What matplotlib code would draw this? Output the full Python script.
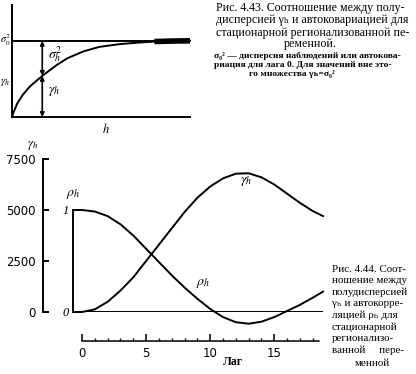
import numpy as np
import matplotlib
matplotlib.use("Agg")
import matplotlib.pyplot as plt
from matplotlib.ticker import FixedLocator, MultipleLocator

plt.rcParams["font.family"] = ["Liberation Serif", "DejaVu Serif"]
plt.rcParams["mathtext.fontset"] = "stix"

# --- data: fig 4.43 (variogram approaching the sill) ---
h_top = [0, 0.01, 0.03, 0.06, 0.1, 0.17, 0.25, 0.31, 0.4, 0.49, 0.6, 0.7, 0.8, 0.9, 1.0]
gamma_top = [0, 0.07, 0.18, 0.29, 0.40, 0.54, 0.68, 0.77, 0.86, 0.92, 0.955, 0.975, 0.99, 0.997, 1.0]
sill = 1.0
h_mark = 0.17

# --- data: fig 4.44 (semivariance and autocorrelation vs lag) ---
lag = [0, 1, 2, 3, 4, 5, 6, 7, 8, 9, 10, 11, 12, 13, 14, 15, 16, 17, 18, 18.8]
gamma = [0, 130, 500, 1050, 1700, 2500, 3300, 4100, 4900, 5600, 6150, 6550,
         6780, 6800, 6600, 6250, 5800, 5350, 4950, 4700]
rho = [1.0, 0.985, 0.94, 0.86, 0.75, 0.62, 0.49, 0.36, 0.24, 0.13, 0.03, -0.05,
       -0.10, -0.115, -0.095, -0.05, 0.01, 0.07, 0.14, 0.20]
gamma_ticks = [0, 2500, 5000, 7500]
rho_ticks = [0, 1]
lag_ticks = [0, 5, 10, 15]

W, H = 416, 374
PT = 0.72  # points per pixel at dpi 100


def fx(x):
    return x / W


def fy(y):
    return 1 - y / H


fig = plt.figure(figsize=(W / 100, H / 100), dpi=100)
lw = 1.4

# ---------------- top chart ----------------
ax_t = fig.add_axes([fx(12), fy(117), 178 / W, (117 - 5) / H])
ax_t.set_xlim(0, 1)
ax_t.set_ylim(0, 1.47)
for s in ["top", "right"]:
    ax_t.spines[s].set_visible(False)
ax_t.spines["left"].set_linewidth(lw)
ax_t.spines["bottom"].set_linewidth(lw)
ax_t.set_xticks([])
ax_t.set_yticks([])
ax_t.patch.set_alpha(0)
ax_t.plot(h_top, gamma_top, color="black", lw=lw, clip_on=False)
tail = [i for i, v in enumerate(h_top) if v >= 0.78]
ax_t.plot([h_top[i] for i in tail], [gamma_top[i] for i in tail], color="black", lw=4, solid_capstyle="butt")
ax_t.axhline(sill, color="black", lw=lw)
g_mark = np.interp(h_mark, h_top, gamma_top)
arrow = dict(arrowstyle="<|-|>", color="black", lw=1.2, mutation_scale=6, shrinkA=0, shrinkB=0)
ax_t.annotate("", xy=(h_mark, sill), xytext=(h_mark, g_mark), arrowprops=arrow)
ax_t.annotate("", xy=(h_mark, g_mark), xytext=(h_mark, 0), arrowprops=arrow)
ax_t.text(h_mark + 0.035, 0.82, r"$\sigma_h^2$", fontsize=10, va="center")
ax_t.text(h_mark + 0.035, 0.32, r"$\gamma_h$", fontsize=10, va="center")
ax_t.text(0.53, -0.06, r"$h$", fontsize=9, va="top", ha="center")
fig.text(fx(0), fy(40), r"$\sigma_0^2$", fontsize=7.5, ha="left", va="center")
fig.text(fx(0), fy(82), r"$\gamma_h$", fontsize=8, ha="left", va="center")

# ---------------- bottom chart ----------------
rect = [fx(82), fy(312), (323 - 82) / W, (312 - 159) / H]
ax = fig.add_axes(rect)
ax.set_xlim(0, 18.8)
ax.set_ylim(0, 7500)
ax.patch.set_alpha(0)
for s in ["top", "right"]:
    ax.spines[s].set_visible(False)
ax.spines["left"].set_position(("outward", 39 * PT))
ax.spines["left"].set_bounds(0, 7500)
ax.spines["left"].set_linewidth(lw)
ax.spines["bottom"].set_position(("outward", 29 * PT))
ax.spines["bottom"].set_bounds(0, 18.5)
ax.spines["bottom"].set_linewidth(1.1)
ax.yaxis.set_major_locator(FixedLocator(gamma_ticks))
ax.tick_params(axis="y", direction="in", length=6 * PT, width=lw, labelsize=8.5, pad=5)
ax.xaxis.set_major_locator(FixedLocator(lag_ticks))
ax.xaxis.set_minor_locator(MultipleLocator(1))
ax.tick_params(axis="x", which="major", direction="in", length=7 * PT, width=1.1, labelsize=8.5, pad=4)
ax.tick_params(axis="x", which="minor", direction="in", length=3.5 * PT, width=1.0)
for lab in ax.get_xticklabels() + ax.get_yticklabels():
    lab.set_fontfamily("DejaVu Sans")
ax.axhline(0, color="black", lw=lw)
ax.plot(lag, gamma, color="black", lw=lw, clip_on=False)

ax2 = fig.add_axes(rect)
ax2.set_xlim(0, 18.8)
ax2.set_ylim(0, 1.5)
ax2.patch.set_alpha(0)
for s in ["top", "right", "bottom"]:
    ax2.spines[s].set_visible(False)
ax2.spines["left"].set_position(("outward", 9 * PT))
ax2.spines["left"].set_bounds(0, 1)
ax2.spines["left"].set_linewidth(lw)
ax2.set_xticks([])
ax2.yaxis.set_major_locator(FixedLocator(rho_ticks))
ax2.tick_params(axis="y", direction="in", length=9 * PT, width=lw, labelsize=9, pad=3)
ax2.set_yticklabels([str(t) for t in rho_ticks], fontstyle="italic")
ax2.plot(lag, rho, color="black", lw=lw, clip_on=False)
ax2.text(8.9, 0.27, r"$\rho_h$", fontsize=10, va="center")
ax.text(12.3, 6350, r"$\gamma_h$", fontsize=10, va="center")

fig.text(fx(33), fy(146), r"$\gamma_h$", fontsize=9, ha="center", va="center")
fig.text(fx(73), fy(195), r"$\rho_h$", fontsize=10, ha="center", va="center")
fig.text(fx(233), fy(362), "Лаг", fontsize=8.5, ha="center", va="center", fontweight="bold")

# ---------------- captions ----------------
cap43 = ("Рис. 4.43. Соотношение между полу-\n"
         "дисперсией γₕ и автоковариацией для\n"
         "стационарной регионализованной пе-")
fig.text(fx(216), fy(2), cap43, fontsize=8.6, va="top", ha="left", linespacing=1.05)
fig.text(fx(310), fy(44), "ременной.", fontsize=8.6, va="center", ha="center")
note43 = ("σ₀² — дисперсия наблюдений или автокова-\n"
          "риация для лага 0. Для значений вне это-")
fig.text(fx(214), fy(52), note43, fontsize=6.8, va="top", ha="left", fontweight="bold",
         linespacing=1.15)
fig.text(fx(292), fy(74), "го множества γₕ=σ₀²", fontsize=6.8, va="center",
         ha="center", fontweight="bold")

cap44 = ("Рис. 4.44. Соот-\nношение между\nполудисперсией\nγₕ и автокорре-\n"
         "ляцией ρₕ для\nстационарной\nрегионализо-\nванной     пере-")
fig.text(fx(332), fy(265), cap44, fontsize=7.9, va="top", ha="left", linespacing=1.32)
fig.text(fx(372), fy(364), "менной", fontsize=7.9, va="center", ha="center")

fig.savefig("out.png", dpi=100)
